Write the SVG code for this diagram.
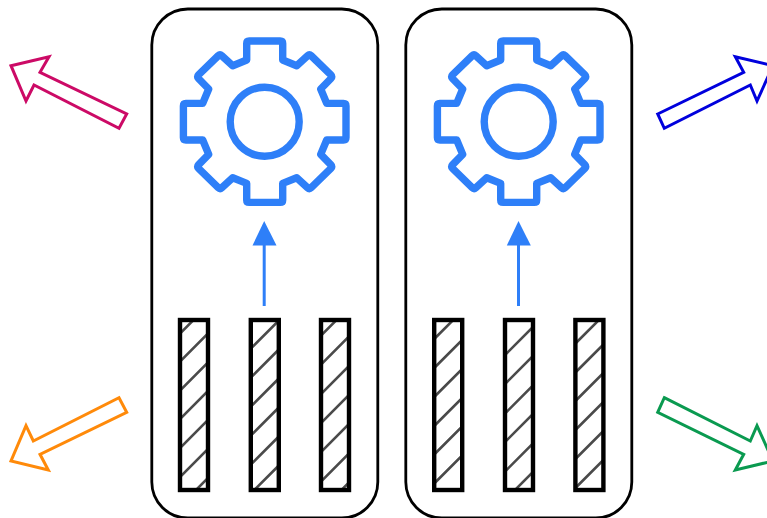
<svg xmlns="http://www.w3.org/2000/svg" width="767" height="518" viewBox="0 0 767 518">
<style>
.panel{fill:#fff;stroke:#000;stroke-width:2.8}
.gear{fill:none;stroke:#2e7ff8;stroke-width:7.4;stroke-linejoin:round}
.flow{stroke:#2e7ff8;stroke-width:3;fill:none}
.head{fill:#2e7ff8}
.bar{fill:none;stroke:#000;stroke-width:4.4}
.hatch{fill:none;stroke:#4a4a4a;stroke-width:2.6}
.out{fill:#fff;stroke-width:3}
</style>
<defs>
<path id="g" d="M-18-61.700V-78.200Q-18-80.700-15.500-80.700H15.500Q18-80.700 18-78.200V-61.700L32-56 42.900-66Q44.700-67.700 46.500-65.950L66.200-46.750Q68-45 66.250-43.200L56-32.700 62-18.300H78.800Q81.300-18.300 81.300-15.800V15.800Q81.300 18.300 78.800 18.300H62L56 32.700 66.250 43.200Q68 45 66.200 46.750L46.500 65.950Q44.700 67.700 42.900 66L32 56 18 61.700V78.200Q18 80.700 15.500 80.700H-15.500Q-18 80.700-18 78.200V61.700L-32 56-42.900 66Q-44.700 67.700-46.500 65.950L-66.200 46.750Q-68 45-66.250 43.200L-56 32.700-62 18.300H-78.800Q-81.300 18.300-81.300 15.800V-15.800Q-81.300-18.300-78.800-18.300H-62L-56-32.700-66.250-43.200Q-68-45-66.200-46.750L-46.500-65.950Q-44.700-67.700-42.900-66L-32-56Z"/>
<clipPath id="c1"><rect x="180" y="320" width="28" height="170"/></clipPath>
<clipPath id="c2"><rect x="250.8" y="320" width="28" height="170"/></clipPath>
<clipPath id="c3"><rect x="321" y="320" width="28" height="170"/></clipPath>
<clipPath id="c4"><rect x="434.2" y="320" width="28" height="170"/></clipPath>
<clipPath id="c5"><rect x="505" y="320" width="28" height="170"/></clipPath>
<clipPath id="c6"><rect x="575.4" y="320" width="28" height="170"/></clipPath>
</defs>
<g id="server-left">
<rect class="panel" x="151.800" y="9" width="226" height="509" rx="36"/>
<g id="gear-left" transform="translate(264.700 121.700)"><use href="#g" class="gear"/><circle class="gear" r="34.500"/></g>
<g id="bars-left">
<path class="hatch" clip-path="url(#c1)" d="M180 333.500l28-28M180 361.500l28-28M180 390.500l28-28M180 419l28-28M180 448l28-28M180 477l28-28M180 506l28-28"/>
<path class="hatch" clip-path="url(#c2)" d="M250.800 348.500l28-28M250.800 377.500l28-28M250.800 406.500l28-28M250.800 435.500l28-28M250.800 464.500l28-28M250.800 493.500l28-28"/>
<path class="hatch" clip-path="url(#c3)" d="M321 335.500l28-28M321 364.500l28-28M321 394l28-28M321 423l28-28M321 452l28-28M321 481.500l28-28M321 510.500l28-28"/>
<rect class="bar" x="180" y="320" width="28" height="170"/>
<rect class="bar" x="250.800" y="320" width="28" height="170"/>
<rect class="bar" x="321" y="320" width="28" height="170"/>
</g>
</g>
<g id="server-right">
<rect class="panel" x="405.800" y="9" width="226" height="509" rx="36"/>
<g id="gear-right" transform="translate(518.700 121.700)"><use href="#g" class="gear"/><circle class="gear" r="34.500"/></g>
<g id="bars-right">
<path class="hatch" clip-path="url(#c4)" d="M434.200 339l28-28M434.200 368l28-28M434.200 397l28-28M434.200 426l28-28M434.200 454.500l28-28M434.200 483.500l28-28"/>
<path class="hatch" clip-path="url(#c5)" d="M505 355l28-28M505 384l28-28M505 413.500l28-28M505 442l28-28M505 471.500l28-28M505 500l28-28"/>
<path class="hatch" clip-path="url(#c6)" d="M575.400 343.500l28-28M575.400 372.500l28-28M575.400 401l28-28M575.400 430l28-28M575.400 459l28-28M575.400 488l28-28"/>
<rect class="bar" x="434.200" y="320" width="28" height="170"/>
<rect class="bar" x="505" y="320" width="28" height="170"/>
<rect class="bar" x="575.400" y="320" width="28" height="170"/>
</g>
</g>
<g id="connectors">
<path class="flow" d="M264.200 306V244"/>
<polygon class="head" points="264.200,221 252.500,245.500 276.500,245.500"/>
<path class="flow" d="M518.500 306V244"/>
<polygon class="head" points="518.500,221 506.800,245.500 530.800,245.500"/>
<polygon class="out" stroke="#cc0a66" points="11,65.700 49,56.700 40,72.300 126.700,114 119,128.300 34,85 26,101"/>
<polygon class="out" stroke="#ff8a0a" points="119,397.700 126.700,412.300 40,454.300 48.300,470 11,461 26,425.700 33.300,441"/>
<polygon class="out" stroke="#0000dd" points="657.700,114 743.700,72.300 735.300,56.700 773,65.700 757,101 750.300,85 664.300,128.300"/>
<polygon class="out" stroke="#0a9a50" points="664.300,397.700 750.300,441 757,425.700 773,461 735.300,470 743.700,454.300 657.700,412.300"/>
</g>
</svg>
